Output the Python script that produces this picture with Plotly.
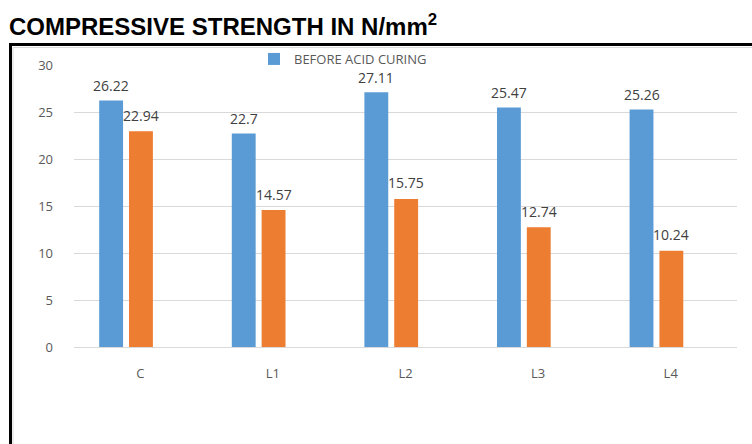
import plotly.graph_objects as go

categories = ["C", "L1", "L2", "L3", "L4"]
before_acid = [26.22, 22.7, 27.11, 25.47, 25.26]
after_acid = [22.94, 14.57, 15.75, 12.74, 10.24]
series_names = ["BEFORE ACID CURING", "AFTER ACID CURING"]
y_ticks = [0, 5, 10, 15, 20, 25, 30]

BLUE = "#5B9BD5"
ORANGE = "#ED7D31"
BAR_W = 0.18
OFF_BLUE = -0.31
OFF_ORANGE = -0.085

# plot area in pixels (for positioning decorations)
W, H = 752, 444
L, R, T, B = 74, 15, 65, 97
PW, PH = W - L - R, H - T - B


def px_x(px):
    return (px - L) / PW


def px_y(py):
    return (H - B - py) / PH


fig = go.Figure()
fig.add_trace(go.Bar(
    x=categories, y=before_acid, name=series_names[0],
    marker=dict(color=BLUE, line=dict(width=0)),
    width=BAR_W, offset=OFF_BLUE, showlegend=True,
))
fig.add_trace(go.Bar(
    x=categories, y=after_acid, name=series_names[1],
    marker=dict(color=ORANGE, line=dict(width=0)),
    width=BAR_W, offset=OFF_ORANGE, showlegend=False,
))

label_font = dict(family="Open Sans, Liberation Sans, sans-serif", size=14, color="#404040")
annotations = []
for i, (b, a) in enumerate(zip(before_acid, after_acid)):
    annotations.append(dict(x=i + OFF_BLUE + BAR_W / 2, y=b, xref="x", yref="y",
                            text=f"{b:g}", showarrow=False, yanchor="middle",
                            yshift=15, font=label_font))
    annotations.append(dict(x=i + OFF_ORANGE + BAR_W / 2, y=a, xref="x", yref="y",
                            text=f"{a:g}", showarrow=False, yanchor="middle",
                            yshift=16, font=label_font))

annotations.append(dict(
    x=px_x(7), y=px_y(25), xref="paper", yref="paper", xanchor="left", yanchor="middle",
    text="<b>COMPRESSIVE STRENGTH IN N/mm<sup>2</sup></b>", showarrow=False,
    font=dict(family="Liberation Sans, Arial, sans-serif", size=24, color="#000000"),
))

shapes = [
    # thin light gray inner chart-area border
    dict(type="rect", xref="paper", yref="paper",
         x0=px_x(13), x1=px_x(770), y0=px_y(470), y1=px_y(47.5),
         line=dict(color="#d9d9d9", width=1), fillcolor="rgba(0,0,0,0)", layer="below"),
    # thick black frame
    dict(type="rect", xref="paper", yref="paper",
         x0=px_x(10.5), x1=px_x(770), y0=px_y(470), y1=px_y(44.5),
         line=dict(color="#000000", width=3), fillcolor="rgba(0,0,0,0)", layer="above"),
]

fig.update_layout(
    width=W, height=H,
    margin=dict(l=L, r=R, t=T, b=B, pad=0),
    paper_bgcolor="white", plot_bgcolor="white",
    barmode="group",
    showlegend=True,
    legend=dict(orientation="h", x=px_x(254), y=px_y(59), xanchor="left", yanchor="middle",
                font=dict(family="Open Sans, Liberation Sans, sans-serif", size=13, color="#595959"),
                bgcolor="rgba(0,0,0,0)", itemwidth=30),
    annotations=annotations,
    shapes=shapes,
    xaxis=dict(
        type="category", range=[-0.5, 4.5], showgrid=False,
        showline=True, linecolor="#d9d9d9", linewidth=1,
        ticks="", ticklabelstandoff=14,
        tickfont=dict(family="Open Sans, Liberation Sans, sans-serif", size=13, color="#595959"),
        zeroline=False,
    ),
    yaxis=dict(
        range=[0, 30], tickvals=y_ticks, showgrid=True, gridcolor="#d9d9d9", gridwidth=1,
        showline=False, zeroline=False, ticks="", ticklabelstandoff=20,
        tickfont=dict(family="Open Sans, Liberation Sans, sans-serif", size=13, color="#595959"),
    ),
)

fig.write_html("out.html")
